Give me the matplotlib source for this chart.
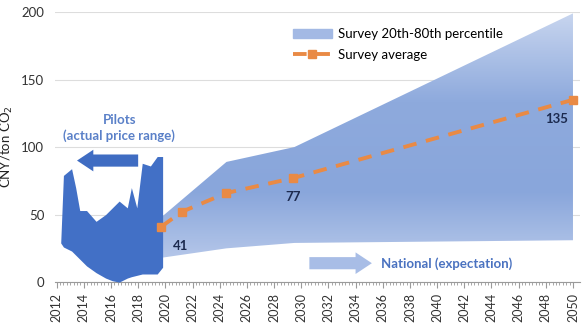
import numpy as np
import matplotlib.pyplot as plt
from matplotlib.patches import FancyArrow
from matplotlib.colors import LinearSegmentedColormap

plt.rcParams['font.family'] = ['Lato', 'DejaVu Sans']

# -------------------------
# Data
# -------------------------
# pilot markets: upper / lower envelope of actual prices
pilot_years = [2012.3, 2012.5, 2013.1, 2013.4, 2013.7, 2014.2, 2014.9, 2015.6,
               2016.1, 2016.6, 2017.2, 2017.5, 2017.9, 2018.3, 2018.9, 2019.4,
               2019.8]
pilot_high = [29, 79, 84, 70, 53, 53, 45, 50, 55, 60, 55, 70, 55, 88, 86, 93, 93]
pilot_low = [29, 26, 23, 20, 17, 12, 7, 3, 1, 0, 3, 4, 5, 6, 6, 6, 11]

# survey: 20th-80th percentile band
band_years = [2019.7, 2024.5, 2029.5, 2050]
band_low = [18, 25, 29, 31]
band_high = [48, 89, 100, 199]

# survey average
avg_years = [2019.7, 2021.2, 2024.5, 2029.4, 2050]
avg_values = [41, 52, 66, 77, 135]
value_labels = ["41", "", "", "77", "135"]

year_ticks = list(range(2012, 2051, 2))

# -------------------------
# Plot
# -------------------------
fig = plt.figure(figsize=(5.88, 3.25), dpi=100)
ax = fig.add_axes([0.094, 0.132, 0.892, 0.831])
ax.set_xlim(2011.9, 2050.5)
ax.set_ylim(0, 200)

# band with a soft gradient
band = ax.fill_between(band_years, band_low, band_high, color="none")
cmap = LinearSegmentedColormap.from_list(
    "band", ["#c9d6ef", "#8eaadd", "#89a6db", "#c4d2ee"])
grad = np.linspace(0, 1, 256).reshape(-1, 1)
img = ax.imshow(grad, extent=[2019.7, 2050, 0, 200], origin="upper",
                aspect="auto", cmap=cmap, zorder=1)
img.set_clip_path(band.get_paths()[0], transform=ax.transData)
band_handle = ax.fill_between([], [], [], color="#a3b9e4")

# pilot price range
ax.fill_between(pilot_years, pilot_low, pilot_high, color="#4270c6",
                linewidth=0, zorder=3)

# survey average
avg_line, = ax.plot(avg_years, avg_values, color="#e98a45",
                    linestyle=(0, (3.5, 2.5)), linewidth=2.8, marker="s",
                    markersize=6, zorder=4)
offsets = {"41": (1.4, -14), "77": (0.0, -14), "135": (-1.2, -14)}
for x, y, lab in zip(avg_years, avg_values, value_labels):
    if lab:
        dx, dy = offsets[lab]
        ax.text(x + dx, y + dy, lab, ha="center", va="center",
                fontsize=9.5, fontweight="bold", color="#1c2a4f", zorder=5)

# arrows and notes
ax.add_patch(FancyArrow(2018.0, 90, -4.5, 0, width=9, head_width=16,
                        head_length=1.2, color="#3f6cc2", linewidth=0,
                        length_includes_head=True, zorder=5))
ax.text(2016.6, 114, "Pilots\n(actual price range)", ha="center",
        va="center", fontsize=9.5, fontweight="bold", color="#5a80c8",
        linespacing=1.35)
ax.add_patch(FancyArrow(2030.6, 14, 4.6, 0, width=9, head_width=16,
                        head_length=1.2, color="#a8bde6", linewidth=0,
                        length_includes_head=True, zorder=5))
ax.text(2035.9, 14, "National (expectation)", ha="left", va="center",
        fontsize=9.5, fontweight="bold", color="#4a72c0")

# axes styling
ax.set_xticks(year_ticks)
ax.set_xticklabels([str(y) for y in year_ticks], rotation=90)
ax.set_xticks(np.arange(2012, 2050.01, 0.25), minor=True)
ax.set_yticks([0, 50, 100, 150, 200])
ax.tick_params(axis="x", which="major", length=4, color="#9a9a9a",
               labelsize=9, colors="#333333")
ax.tick_params(axis="x", which="minor", length=2.5, color="#9a9a9a")
ax.tick_params(axis="y", length=0, labelsize=9.5, colors="#333333", pad=8)
ax.set_ylabel("CNY/ton CO$_2$", fontsize=9.5, color="#222222", labelpad=4)
ax.grid(axis="y", color="#dddddd", linewidth=0.8)
ax.set_axisbelow(True)
for side in ["top", "right", "left"]:
    ax.spines[side].set_visible(False)
ax.spines["bottom"].set_color("#9a9a9a")

ax.legend([band_handle, avg_line],
          ["Survey 20th-80th percentile", "Survey average"],
          loc="upper left", bbox_to_anchor=(0.43, 0.985), frameon=False,
          fontsize=9.5, handlelength=3.0, handletextpad=0.4,
          labelspacing=0.65)

fig.savefig("out.png", dpi=100)
